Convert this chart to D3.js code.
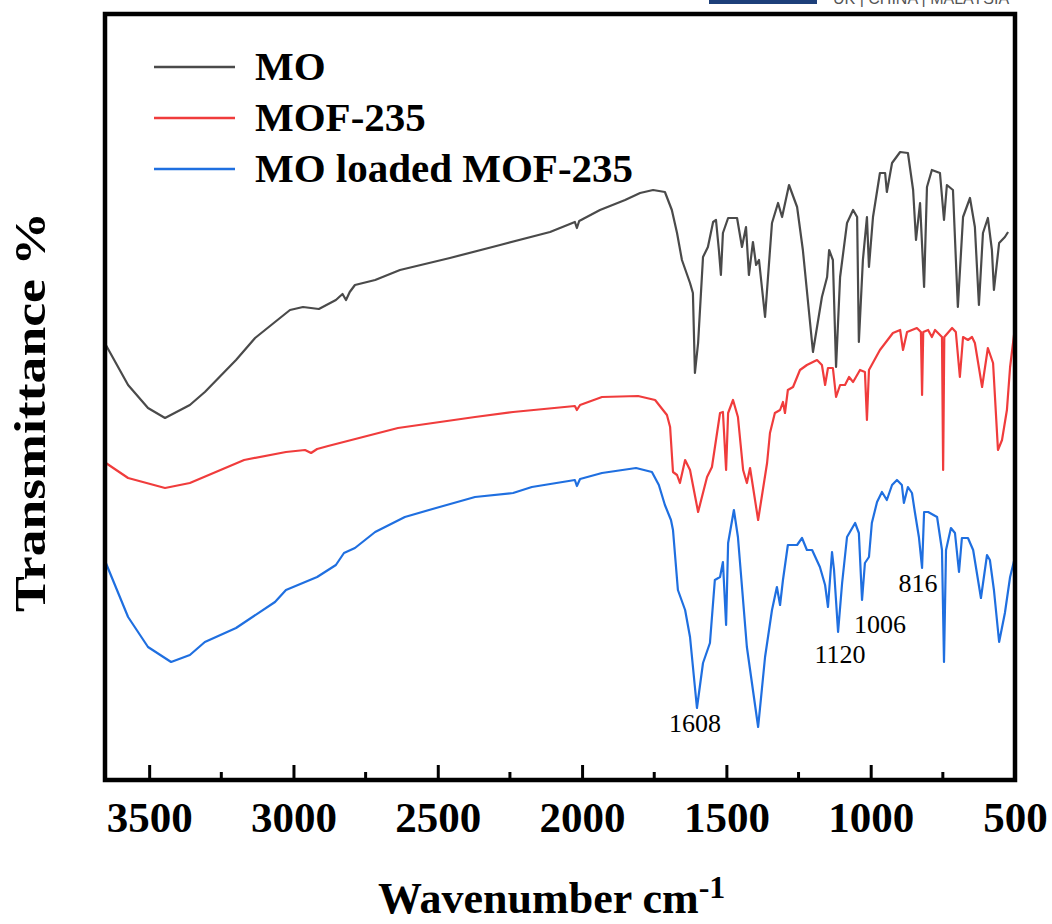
<!DOCTYPE html>
<html>
<head>
<meta charset="utf-8">
<script src="https://cdn.jsdelivr.net/npm/d3@7"></script>
<style>
  body { margin: 0; background: #fff; }
  svg { display: block; }
</style>
</head>
<body>
<script>
// FTIR spectra, [wavenumber cm-1, transmittance (offset, a.u.)]
var moSeries = [
  [3650, 43.5], [3573, 39.5], [3504, 37.2], [3445, 36.2], [3359, 37.5], [3307, 38.8], [3199, 42.0],
  [3133, 44.2], [3064, 45.8], [3012, 47.0], [2967, 47.3], [2912, 47.1], [2853, 48.0], [2830, 48.6],
  [2818, 48.0], [2805, 48.8], [2787, 49.5], [2717, 50.0], [2631, 51.0], [2458, 52.2], [2284, 53.5],
  [2111, 54.8], [2025, 55.8], [2018, 55.2], [2010, 55.9], [1938, 57.0], [1851, 58.0], [1799, 58.7],
  [1754, 59.0], [1713, 58.8], [1689, 57.0], [1671, 54.7], [1654, 52.0], [1626, 49.7], [1616, 48.7],
  [1609, 40.7], [1598, 43.7], [1581, 52.3], [1564, 53.3], [1546, 55.8], [1536, 56.0], [1526, 53.0],
  [1519, 50.5], [1512, 54.7], [1494, 56.2], [1463, 56.2], [1446, 53.3], [1432, 55.3], [1422, 50.5],
  [1408, 53.8], [1397, 51.5], [1387, 52.0], [1366, 46.3], [1342, 55.7], [1321, 57.7], [1307, 56.3],
  [1283, 59.5], [1255, 57.3], [1235, 53.0], [1200, 42.8], [1169, 48.3], [1151, 50.3], [1144, 53.0],
  [1131, 52.0], [1120, 41.3], [1106, 50.3], [1082, 55.7], [1061, 57.0], [1047, 56.3], [1041, 43.8],
  [1027, 52.0], [1013, 56.3], [1006, 51.3], [992, 56.3], [968, 60.7], [950, 60.7], [944, 58.8],
  [926, 61.7], [898, 62.8], [871, 62.7], [853, 59.0], [843, 54.0], [829, 57.7], [815, 49.3],
  [805, 59.3], [788, 61.0], [760, 60.7], [746, 56.0], [736, 59.5], [715, 59.0], [698, 47.3],
  [680, 56.3], [656, 58.2], [639, 55.3], [625, 47.5], [611, 54.7], [594, 56.2], [580, 53.0],
  [573, 49.0], [555, 53.7], [535, 54.3], [524, 54.8]
];

var mofSeries = [
  [3650, 31.7], [3573, 30.2], [3445, 29.2], [3359, 29.7], [3171, 32.0], [3026, 32.8], [2960, 33.0],
  [2939, 32.7], [2918, 33.1], [2880, 33.4], [2638, 35.2], [2371, 36.3], [2239, 36.8], [2025, 37.4],
  [2018, 37.0], [2007, 37.5], [1931, 38.3], [1806, 38.4], [1747, 38.0], [1706, 36.5], [1695, 35.3],
  [1685, 30.8], [1671, 30.5], [1661, 29.7], [1643, 32.0], [1626, 31.0], [1598, 26.8], [1567, 30.3],
  [1550, 31.3], [1522, 36.7], [1512, 36.8], [1501, 31.0], [1494, 36.7], [1477, 38.0], [1460, 36.3],
  [1442, 31.0], [1429, 29.7], [1418, 31.2], [1390, 26.0], [1359, 31.7], [1349, 34.7], [1332, 36.7],
  [1314, 37.0], [1304, 37.8], [1297, 36.7], [1287, 39.0], [1269, 39.3], [1245, 41.0], [1221, 41.5],
  [1186, 42.0], [1169, 41.5], [1158, 39.5], [1148, 41.2], [1131, 41.2], [1120, 38.3], [1106, 39.5],
  [1089, 39.5], [1075, 40.3], [1061, 39.8], [1037, 41.0], [1020, 40.8], [1013, 36.0], [1006, 41.0],
  [968, 43.0], [923, 44.7], [898, 45.0], [888, 43.0], [874, 44.8], [840, 45.2], [826, 44.8],
  [822, 38.5], [818, 44.8], [801, 45.0], [788, 44.3], [777, 45.0], [753, 44.3], [749, 31.0],
  [745, 44.3], [718, 45.2], [705, 44.8], [691, 40.3], [680, 44.3], [663, 44.0], [649, 44.3],
  [639, 43.7], [614, 39.3], [594, 43.2], [576, 41.7], [559, 33.0], [545, 34.0], [528, 37.0],
  [517, 41.3], [500, 45.3]
];

var loadedSeries = [
  [3650, 21.7], [3573, 16.3], [3504, 13.3], [3424, 11.8], [3359, 12.5], [3307, 13.8], [3199, 15.2],
  [3064, 17.8], [3026, 19.0], [2918, 20.3], [2853, 21.5], [2825, 22.7], [2787, 23.2], [2717, 24.8],
  [2614, 26.3], [2506, 27.2], [2371, 28.3], [2239, 28.7], [2174, 29.3], [2025, 30.0], [2018, 29.4],
  [2007, 30.1], [1931, 30.7], [1813, 31.2], [1758, 30.8], [1734, 29.5], [1713, 27.5], [1692, 26.0],
  [1685, 25.0], [1668, 19.0], [1643, 17.0], [1626, 14.3], [1602, 7.2], [1581, 11.7], [1557, 13.7],
  [1540, 20.0], [1522, 20.3], [1512, 21.8], [1501, 15.5], [1494, 23.7], [1474, 27.0], [1460, 24.3],
  [1429, 13.3], [1390, 5.3], [1366, 12.3], [1342, 17.0], [1325, 19.3], [1314, 17.5], [1304, 20.0],
  [1287, 23.5], [1255, 23.5], [1238, 24.2], [1221, 23.0], [1203, 23.0], [1176, 21.3], [1158, 19.5],
  [1148, 17.3], [1134, 22.8], [1127, 21.0], [1113, 14.8], [1099, 19.7], [1082, 24.3], [1054, 25.7],
  [1041, 24.7], [1030, 18.0], [1020, 21.7], [1006, 22.3], [996, 25.7], [978, 27.8], [961, 28.8],
  [944, 28.0], [926, 29.5], [909, 30.0], [892, 29.5], [885, 27.7], [871, 29.3], [857, 28.7],
  [847, 26.8], [833, 24.3], [822, 21.2], [815, 26.8], [801, 26.8], [770, 26.3], [753, 23.0],
  [746, 11.8], [739, 23.0], [722, 25.2], [708, 24.7], [694, 20.8], [684, 24.2], [663, 24.2],
  [645, 23.0], [618, 18.2], [597, 22.5], [587, 22.0], [573, 19.0], [555, 13.8], [535, 16.7],
  [517, 20.3], [500, 22.3]
];

var seriesNames = ["MO", "MOF-235", "MO loaded MOF-235"];
var seriesColors = ["#4a4a4a", "#f03c3c", "#1f6fe0"];
var majorTicks = [3500, 3000, 2500, 2000, 1500, 1000, 500];
var minorTicks = [3250, 2750, 2250, 1750, 1250, 750];
var peakLabels = ["1608", "1120", "1006", "816"];
var peakWave = [1609, 1106, 968, 836];
var peakT = [4.8, 11.7, 14.7, 18.8];

var width = 1052, height = 924;
var margin = {left: 105, right: 37, top: 14, bottom: 144};

var svg = d3.select("body").append("svg")
    .attr("width", width)
    .attr("height", height);

var x = d3.scaleLinear()
    .domain([3653, 500])
    .range([margin.left, width - margin.right]);

var y = d3.scaleLinear()
    .domain([0, 76.6])
    .range([height - margin.bottom, margin.top]);

// cropped logo strip at the very top
svg.append("rect")
    .attr("x", 709).attr("y", 0)
    .attr("width", 108).attr("height", 4)
    .attr("fill", "#1d3f7a");
svg.append("text")
    .attr("x", 833).attr("y", 4)
    .attr("font-family", "Liberation Sans, Arial, sans-serif")
    .attr("font-size", 16)
    .attr("fill", "#555")
    .text("UK | CHINA | MALAYSIA");

var line = d3.line()
    .x(d => x(d[0]))
    .y(d => y(d[1]));

var allSeries = [moSeries, mofSeries, loadedSeries];

svg.append("g")
    .attr("fill", "none")
    .attr("stroke-width", 2.2)
    .attr("stroke-linejoin", "round")
    .selectAll("path")
    .data(allSeries)
    .join("path")
    .attr("stroke", (d, i) => seriesColors[i])
    .attr("d", line);

// frame
var x0 = x.range()[0], x1 = x.range()[1], y0 = y.range()[0], y1 = y.range()[1];
svg.append("path")
    .attr("d", `M${x0},${y1}H${x1}V${y0}H${x0}Z`)
    .attr("fill", "none")
    .attr("stroke", "#000")
    .attr("stroke-width", 4.5);

// bottom axis, ticks pointing inward
var xAxis = d3.axisBottom(x)
    .tickValues(majorTicks)
    .tickSize(-15)
    .tickPadding(0)
    .tickFormat(d3.format("d"));

var gx = svg.append("g")
    .attr("transform", `translate(0,${y0})`)
    .call(xAxis);
gx.select(".domain").remove();
gx.selectAll(".tick line").attr("stroke", "#000").attr("stroke-width", 3);
gx.selectAll(".tick text")
    .attr("y", 52)
    .attr("dy", 0)
    .attr("fill", "#000")
    .attr("font-family", "Liberation Serif, Times New Roman, serif")
    .attr("font-weight", "bold")
    .attr("font-size", 43);

svg.append("g")
    .selectAll("line")
    .data(minorTicks)
    .join("line")
    .attr("x1", d => x(d)).attr("x2", d => x(d))
    .attr("y1", y0).attr("y2", y0 - 8)
    .attr("stroke", "#000")
    .attr("stroke-width", 3);

// axis titles
var xt = svg.append("text")
    .attr("x", 378)
    .attr("y", 913)
    .attr("font-family", "Liberation Serif, Times New Roman, serif")
    .attr("font-weight", "bold")
    .attr("font-size", 44)
    .attr("fill", "#000");
xt.append("tspan").text("Wavenumber cm");
xt.append("tspan")
    .attr("dy", -15)
    .attr("font-size", 32)
    .text("-1");

svg.append("text")
    .attr("transform", "translate(45,412) rotate(-90)")
    .attr("text-anchor", "middle")
    .attr("font-family", "Liberation Serif, Times New Roman, serif")
    .attr("font-weight", "bold")
    .attr("font-size", 44)
    .attr("textLength", 400)
    .attr("lengthAdjust", "spacingAndGlyphs")
    .attr("fill", "#000")
    .text("Transmittance %");

// legend
var legend = svg.append("g")
    .selectAll("g")
    .data(seriesNames)
    .join("g")
    .attr("transform", (d, i) => `translate(154,${67 + i * 51})`);
legend.append("line")
    .attr("x1", 0).attr("x2", 81)
    .attr("stroke", (d, i) => seriesColors[i])
    .attr("stroke-width", 2.5);
legend.append("text")
    .attr("x", 101)
    .attr("y", 13)
    .attr("font-family", "Liberation Serif, Times New Roman, serif")
    .attr("font-weight", "bold")
    .attr("font-size", 41)
    .attr("fill", "#000")
    .text(d => d);

// peak annotations
svg.append("g")
    .selectAll("text")
    .data(peakLabels)
    .join("text")
    .attr("x", (d, i) => x(peakWave[i]))
    .attr("y", (d, i) => y(peakT[i]))
    .attr("text-anchor", "middle")
    .attr("font-family", "Liberation Serif, Times New Roman, serif")
    .attr("font-size", 26)
    .attr("fill", "#000")
    .text(d => d);
</script>
</body>
</html>
